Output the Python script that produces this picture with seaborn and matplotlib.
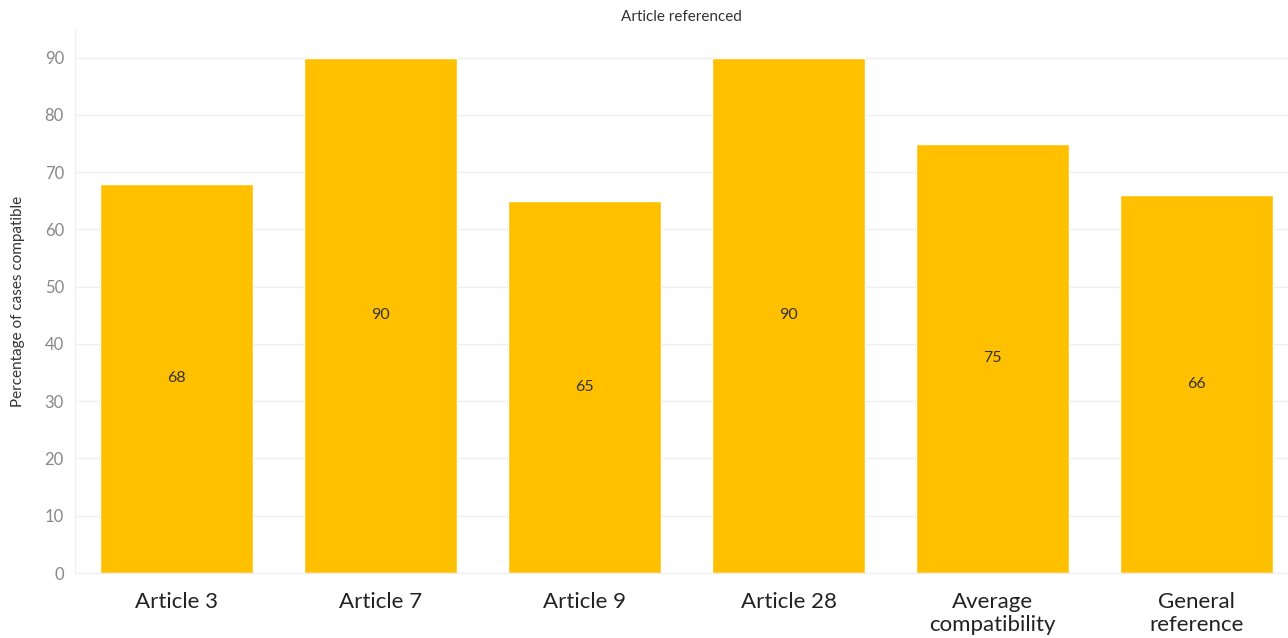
import numpy as np
import pandas as pd
import matplotlib
matplotlib.use("Agg")
import matplotlib.pyplot as plt
import seaborn as sns

categories = ["Article 3", "Article 7", "Article 9", "Article 28",
              "Average\ncompatibility", "General\nreference"]
values = [68, 90, 65, 90, 75, 66]

df = pd.DataFrame({"article": categories, "pct": values})

sns.set_style("white")
plt.rcParams['font.family'] = ['Lato', 'DejaVu Sans']

fig = plt.figure(figsize=(12.88, 6.38), dpi=100)
ax = fig.add_axes([75/1288, 1-573/638, (1288-75)/1288, (573-29)/638])

sns.barplot(data=df, x="article", y="pct", color="#FFC000", width=0.75,
            saturation=1, ax=ax, zorder=2)

ax.set_xlim(-0.5, 5.45)
ax.set_ylim(0, 95)
ax.set_yticks(range(0, 91, 10))
ax.grid(axis="y", color="#efefef", linewidth=1, zorder=0)
ax.set_axisbelow(True)

for i, v in enumerate(values):
    ax.text(i, v / 2, str(v), ha="center", va="center", fontsize=11.5, color="#333333")

for s in ["top", "right"]:
    ax.spines[s].set_visible(False)
ax.spines["left"].set_color("#eeeeee")
ax.spines["bottom"].set_color("#eeeeee")

ax.set_xticks(np.arange(-0.5, 5.5, 1), minor=True)
ax.tick_params(axis="x", which="major", length=0, pad=14, labelsize=16, labelcolor="#222222")
ax.tick_params(axis="x", which="minor", length=6, color="#e6e6e6")
ax.tick_params(axis="y", length=0, labelsize=12, labelcolor="#888888", pad=8)
for lbl in ax.get_xticklabels():
    lbl.set_linespacing(1.15)

ax.set_xlabel("")
ax.set_ylabel("Percentage of cases compatible", fontsize=11, color="#333333", labelpad=14)
fig.text(0.5 + 75/1288/2, 1 - 17/638, "Article referenced", ha="center", va="center",
         fontsize=11, color="#333333")

fig.savefig("out.png", dpi=100)
